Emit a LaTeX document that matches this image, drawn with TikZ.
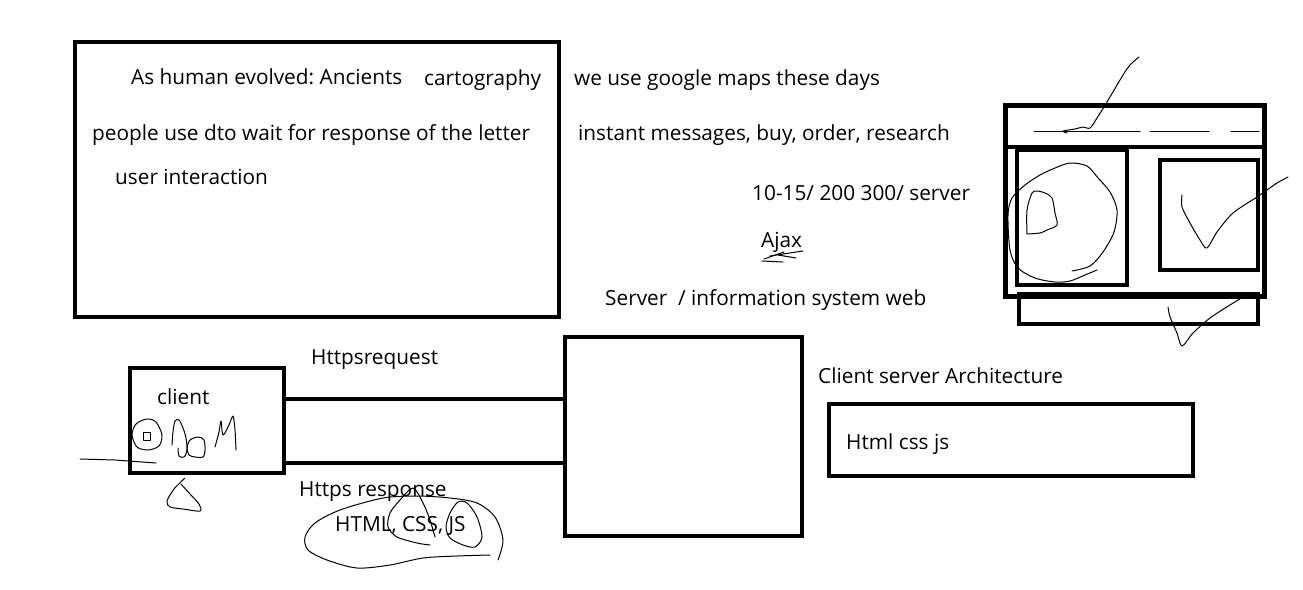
\documentclass[tikz,border=0pt]{standalone}
\usepackage{fontspec}
\setmainfont{Open Sans}
\usetikzlibrary{positioning,calc}
\frenchspacing

\begin{document}
\begin{tikzpicture}[x=1pt, y=-1pt, font=\fontsize{20.8}{24}\selectfont]
    \tikzset{box/.style={draw, line width=4pt, inner sep=0pt},
             txt/.style={anchor=base west, inner sep=0pt},
             wire/.style={line width=4pt},
             pen/.style={line width=1pt, line join=round, line cap=round}}
    \useasboundingbox[fill=white] (0,0) rectangle (1303,589);

    % ---- STORY BOX ----
    \node[box, minimum width=484pt, minimum height=275pt] (story) at (317,179.5) {};
    \node[txt] (human) at (131,84) {As human evolved: Ancients};
    \node[txt] (carto) at (424,85) {cartography};
    \node[txt] (letter) at (92,140) {people use dto wait for response of the letter};
    \node[txt] (inter) at (115,184) {user interaction};

    % ---- NOTES ----
    \node[txt] (maps) at (574,85) {we use google maps these days};
    \node[txt] (instant) at (578,140) {instant messages, buy, order, research};
    \node[txt] (count) at (752,200) {10-15/ 200 300/ server};
    \node[txt] (ajax) at (761,247) {Ajax};
    \node[txt] (web) at (605,305) {Server\ \ / information system web};

    % scribble under Ajax
    \foreach \a/\b in {{(764,259)}/{(784,252)}, {(770,256)}/{(803,251)},
                       {(762,261)}/{(783,262)}, {(778,255)}/{(796,258)}} {
            \draw[pen] \a -- \b;
        }

    % ---- CLIENT / SERVER ----
    \node[box, minimum width=154pt, minimum height=105pt] (client) at (206.5,420.5) {};
    \node[box, minimum width=237pt, minimum height=199pt] (server) at (683.5,436.5) {};
    \node[txt] (clabel) at (157,404) {client};

    \coordinate (req) at (0,399);
    \coordinate (resp) at (0,463);
    \draw[wire] (client.east |- req) -- (server.west |- req);
    \draw[wire] (client.east |- resp) -- (server.west |- resp);
    \fill (client.east |- req) circle (2.5pt);

    \node[txt] (reqlabel) at (311,364) {Httpsrequest};
    \node[txt] (resplabel) at (299,496) {Https response};
    \node[txt] (files) at (335,531) {HTML, CSS, JS};

    \node[txt] (arch) at (818,383) {Client server Architecture};
    \node[box, minimum width=364pt, minimum height=72pt] (html) at (1011,440) {};
    \node[txt] (hcj) at (846,449) {Html css js};

    % ---- PEN MARKS ----

    % DOM under client
    \draw[pen] plot[smooth cycle] coordinates {(147,419) (136,424) (132,435) (137,447) (148,450) (159,446) (162,435) (156,422)};
    \draw[pen] (143,432) rectangle (150,440);
    \draw[pen] plot[smooth] coordinates {(172,445) (173,432) (175,421) (179,420) (183,428) (186,438) (187,450) (184,457) (179,456) (178,448)};
    \draw[pen] plot[smooth cycle] coordinates {(187,448) (190,440) (198,437) (204,440) (205,450) (203,457) (195,457) (189,455)};
    \draw[pen] plot[smooth] coordinates {(215,447) (219,432) (221,421) (223,435) (229,425) (233,416) (235,430) (236,450)};
    \draw[pen] (80,459) -- (115,460) -- (156,463);
    \draw[pen] plot[smooth] coordinates {(185,478) (174,489) (167,501) (170,507) (183,509) (200,511) (199,504) (190,494) (181,484)};

    % loops round HTML, CSS, JS
    \draw[pen] plot[smooth] coordinates {(498,560) (503,540) (495,517) (477,503) (450,498) (417,496) (383,498) (340,510) (315,523) (305,537) (308,550) (327,560) (357,568) (390,565) (423,558) (457,556) (490,555)};
    \draw[pen] plot[smooth] coordinates {(430,545) (417,543) (397,537) (388,527) (390,513) (400,500) (413,488) (423,503) (430,520) (435,537)};
    \draw[pen] plot[smooth cycle] coordinates {(458,502) (450,513) (446,527) (450,538) (463,545) (475,547) (482,537) (477,517) (467,503)};

    % ---- BROWSER SKETCH ----
    \draw[line width=5pt] (1005,105) rectangle (1264,296);
    \draw[line width=4pt] (1005,147) -- (1264,147);
    \draw[line width=4pt] (1017,150) rectangle (1127,285);
    \draw[line width=4pt] (1160,160) rectangle (1258,270);
    \draw[line width=4pt] (1019,294) rectangle (1258,324);
    \foreach \xa/\xb in {1034/1140, 1150/1209, 1231/1259} {
            \draw[pen] (\xa,131) -- (\xb,131);
        }
    \draw[pen] plot[smooth] coordinates {(1139,57) (1130,65) (1123,75) (1107,102) (1097,118) (1090,128) (1083,127) (1075,129) (1063,131) (1067,133)};
    \draw[pen] plot[smooth] coordinates {(1072,271) (1090,266) (1103,252) (1114,232) (1117,210) (1110,192) (1098,178) (1087,166) (1070,163) (1055,168) (1040,175) (1025,185) (1012,198) (1008,215) (1010,250) (1018,268) (1035,278) (1055,282) (1070,281) (1085,275) (1097,270)};
    \draw[pen] plot[smooth] coordinates {(1027,234) (1027,210) (1032,193) (1037,191) (1045,193) (1052,198) (1055,213) (1057,225) (1047,230) (1040,233) (1027,234)};
    \draw[pen] plot[smooth] coordinates {(1182,195) (1182,207) (1190,223) (1200,240) (1207,248) (1217,232) (1233,213) (1257,197) (1267,190) (1277,183) (1288,177)};
    \draw[pen] plot[smooth] coordinates {(1168,307) (1170,317) (1177,333) (1182,346) (1193,333) (1210,318) (1230,305) (1243,297)};

\end{tikzpicture}
\end{document}
